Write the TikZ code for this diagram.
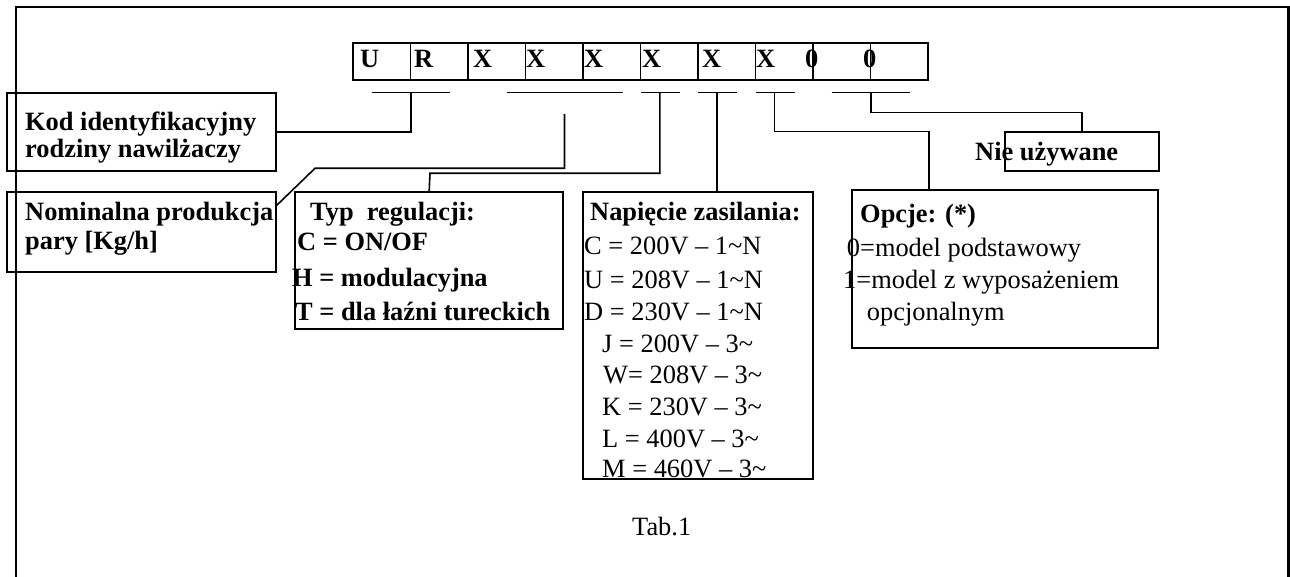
\documentclass[tikz,border=0pt]{standalone}
\usepackage{fontspec}
\setmainfont{Liberation Serif}
\usetikzlibrary{calc}
\begin{document}
\begin{tikzpicture}[x=1pt,y=-1pt,
  frameline/.style={line width=2.2pt},
  box/.style={draw, line width=1.8pt, rectangle, inner sep=0pt, outer sep=0pt, anchor=north west},
  cell/.style={draw, line width=1.2pt, rectangle, inner sep=0pt, outer sep=0pt, anchor=north west,
    minimum width=57.5pt, minimum height=37pt},
  link/.style={line width=1.6pt},
  lbl/.style={font=\fontsize{26.4}{31.7}\selectfont\bfseries, anchor=base west, inner sep=0pt},
  txt/.style={font=\fontsize{26.4}{31.7}\selectfont, anchor=base west, inner sep=0pt},
  ]
\useasboundingbox (0,0) rectangle (1290,577);

% outer frame, open at the bottom
\draw[frameline] (15.7,577) -- (15.7,7.3) -- (1288.5,7.3) -- (1288.5,577);

% code strip
\foreach \i in {0,...,9} {
  \node[cell] (c\i) at ({353+57.5*\i},43) {};
}
\draw[line width=2pt] (c0.north west) -- (c9.north east);
\draw[line width=2pt] (c0.south west) -- (c9.south east);
\node[lbl] (lu) at (360,67.3) {U};
\node[lbl] (lr) at (414,67.3) {R};
\node[lbl] (lx1) at (473,67.3) {X};
\node[lbl] (lx2) at (526,67.3) {X};
\node[lbl] (lx3) at (584,67.3) {X};
\node[lbl] (lx4) at (642,67.3) {X};
\node[lbl] (lx5) at (702,67.3) {X};
\node[lbl] (lx6) at (756,67.3) {X};
\node[lbl] (lz1) at (805,67.3) {0};
\node[lbl] (lz2) at (863,67.3) {0};

% description boxes
\node[box, minimum width=269.3pt, minimum height=77.7pt] (kod) at (6.7,93) {};
\node[box, minimum width=269.3pt, minimum height=80pt] (nom) at (6.7,191.7) {};
\node[box, minimum width=268.3pt, minimum height=137.3pt] (typ) at (295,191.7) {};
\node[box, minimum width=230pt, minimum height=287pt] (nap) at (583,191.7) {};
\node[box, minimum width=306.3pt, minimum height=158pt] (opc) at (851.7,190) {};
\node[box, minimum width=154.3pt, minimum height=39.3pt] (nie) at (1005,131.7) {};

% brackets under the strip
\coordinate (t1a) at (371.7,92.7); \coordinate (t1b) at (450,92.7); \coordinate (t1v) at (410.7,92.7);
\coordinate (t2a) at (506.5,92.7); \coordinate (t2b) at (622.9,92.7); \coordinate (t2v) at (564.5,114);
\coordinate (t3a) at (640.8,92.7); \coordinate (t3b) at (680.1,92.7); \coordinate (t3v) at (659.9,92.7);
\coordinate (t4a) at (698.1,92.7); \coordinate (t4b) at (737,92.7); \coordinate (t4v) at (717.2,92.7);
\coordinate (t5a) at (756.1,92.7); \coordinate (t5b) at (795.4,92.7); \coordinate (t5v) at (774.4,92.7);
\coordinate (t6a) at (831.7,92.7); \coordinate (t6b) at (909.9,92.7); \coordinate (t6v) at (871,92.7);
\foreach \t in {t1,t2,t3,t4,t5,t6} { \draw[link] (\t a) -- (\t b); }

% connectors
\draw[link] (t1v) |- (kod.east);
\coordinate (k2) at (315,168.3);
\draw[link] (t2v) |- (k2) -- ($(nom.north east)+(0,14.3)$);
\coordinate (k3) at (430,173.3);
\draw[link] (t3v) |- (k3) -- (typ.north);
\draw[link] (t4v) -- (t4v |- nap.north);
\coordinate (k5) at (929,131.7);
\draw[link] (t5v) |- (k5) -- (k5 |- opc.north);
\coordinate (k6) at (871,112.7);
\draw[link] (t6v) -- (k6) -| (nie.north);

% texts
\node[lbl] (kod1) at (25,131) {Kod identyfikacyjny};
\node[lbl] (kod2) at (25,158) {rodziny nawilżaczy};
\node[lbl] (nom1) at (25,221) {Nominalna produkcja};
\node[lbl] (nom2) at (25,250) {pary [Kg/h]};
\node[lbl] (typ1) at (310,221) {Typ\hspace{0.5em}regulacji:};
\node[lbl] (typ2) at (297,251) {C = ON/OF};
\node[lbl] (typ3) at (292,287) {H = modulacyjna};
\node[lbl] (typ4) at (295,320) {T = dla łaźni tureckich};
\node[lbl] (nap0) at (590,221) {Napięcie zasilania:};
\node[txt] (nap1) at (584,255) {C = 200V – 1\textasciitilde N};
\node[txt] (nap2) at (584,288) {U = 208V – 1\textasciitilde N};
\node[txt] (nap3) at (584,320) {D = 230V – 1\textasciitilde N};
\node[txt] (nap4) at (602,352) {J = 200V – 3\textasciitilde};
\node[txt] (nap5) at (603,383) {W= 208V – 3\textasciitilde};
\node[txt] (nap6) at (602,415) {K = 230V – 3\textasciitilde};
\node[txt] (nap7) at (602,447) {L = 400V – 3\textasciitilde};
\node[txt] (nap8) at (602,477) {M = 460V – 3\textasciitilde};
\node[lbl] (opc0) at (860,223) {Opcje: (*)};
\node[txt] (opc1) at (846.7,256.7) {0=model podstawowy};
\node[txt] (opc2) at (843,288.3) {1=model z wyposażeniem};
\node[txt] (opc3) at (866.7,320) {opcjonalnym};
\node[lbl] (nie1) at (975,161) {Nie używane};
\node[txt] (tab) at (632,535) {Tab.1};
\end{tikzpicture}
\end{document}
